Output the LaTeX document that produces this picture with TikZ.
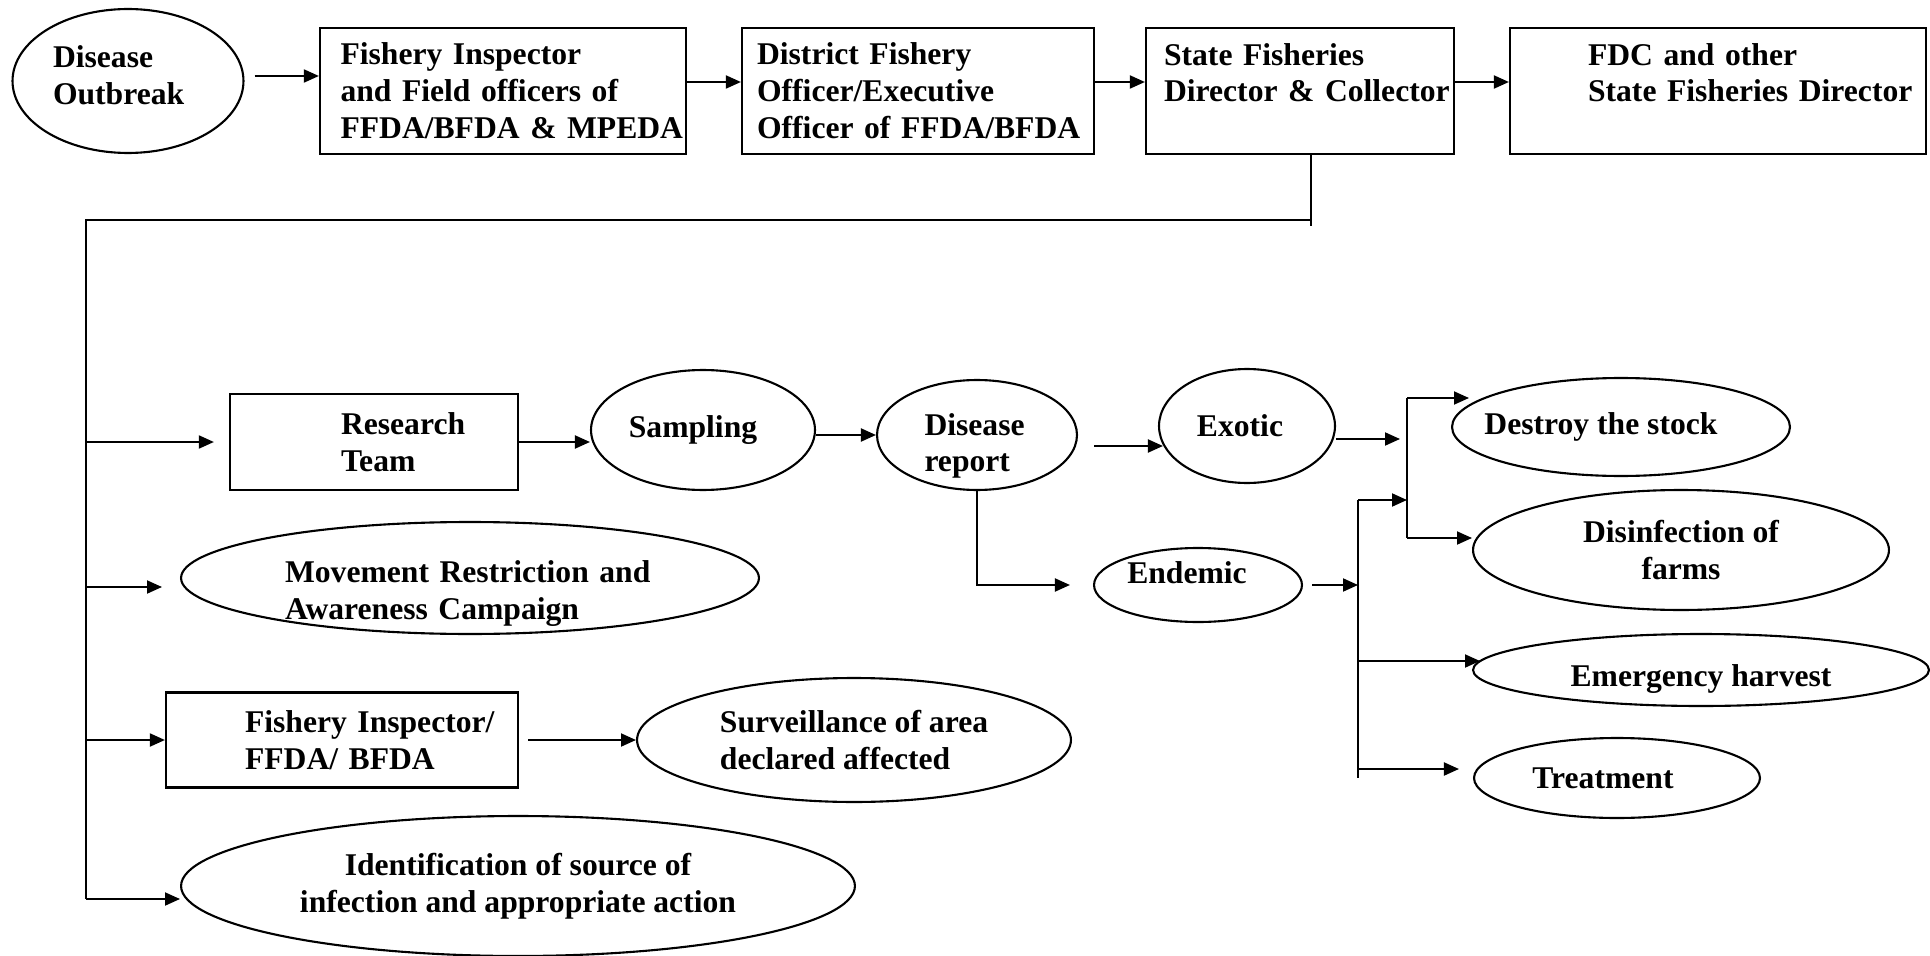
\documentclass[tikz,border=0pt]{standalone}
\usepackage{fontspec}
\setmainfont{Liberation Serif}
\usetikzlibrary{shapes.geometric, arrows.meta, positioning, calc}
\hyphenpenalty=10000

\begin{document}
\begin{tikzpicture}[
    x=0.02cm, y=0.02cm,
    font=\fontsize{18pt}{21pt}\selectfont\bfseries,
    box/.style={rectangle, draw, line width=1.3pt, inner sep=0pt, align=left, minimum height=2.52cm},
    oval/.style={ellipse, draw, line width=1.2pt, inner sep=0pt},
    arrow/.style={-{Triangle[length=0.3cm, width=0.26cm]}, line width=1.1pt},
    link/.style={line width=1.1pt}
]
    \useasboundingbox (0,0) rectangle (1930,-956);

    % reporting chain
    \node[oval, minimum width=4.62cm, minimum height=2.88cm, align=left, text width=3cm, text height=0.31cm, text depth=0.85cm] (out) at (128,-81) {Disease\\Outbreak};
    \node[box, minimum width=7.32cm, text width=6.5cm] (fi) at (503,-91) {Fishery Inspector\\and Field officers of\\FFDA/BFDA~\&~MPEDA};
    \node[box, minimum width=7.04cm, text width=6.44cm] (dfo) at (918,-91) {District Fishery\\Officer/Executive\\Officer~of~FFDA/BFDA};
    \node[box, minimum width=6.16cm, text width=5.44cm] (sfd) at (1300,-91) {State Fisheries\\Director~\&~Collector\\\mbox{}};
    \node[box, minimum width=8.32cm, text width=5.2cm] (fdc) at (1718,-91) {FDC~and~other\\State~Fisheries~Director\\\mbox{}};

    \draw[arrow] ($(out.east)+(10,5)$) -- ($(out.east -| fi.west)+(0,5)$);
    \draw[arrow] ($(fi.east)+(0,9)$) -- ($(dfo.west)+(0,9)$);
    \draw[arrow] ($(dfo.east)+(0,9)$) -- ($(sfd.west)+(0,9)$);
    \draw[arrow] ($(sfd.east)+(0,9)$) -- ($(fdc.west)+(0,9)$);

    % actions
    \node[box, minimum width=5.76cm, minimum height=1.92cm, text width=1.32cm] (rt) at (374,-442) {Research\\Team};
    \node[oval, minimum width=4.48cm, minimum height=2.4cm] (smp) at (703,-430) {\hspace*{-0.4cm}Sampling};
    \node[oval, minimum width=4cm, minimum height=2.2cm, align=left, text width=2.1cm, text height=0.65cm, text depth=0.65cm] (dr) at (977,-435) {Disease\\report};
    \node[oval, minimum width=3.52cm, minimum height=2.28cm] (exo) at (1247,-426) {\hspace*{-0.28cm}Exotic};
    \node[oval, minimum width=4.16cm, minimum height=1.48cm, text height=0.19cm, text depth=0.24cm] (end) at (1198,-585) {\hspace*{-0.44cm}Endemic};
    \node[oval, minimum width=6.76cm, minimum height=1.96cm] (dst) at (1621,-427) {\hspace*{-0.8cm}Destroy the stock};
    \node[oval, minimum width=8.32cm, minimum height=2.4cm, align=center] (dis) at (1681,-550) {Disinfection of\\farms};
    \node[oval, minimum width=9.12cm, minimum height=1.44cm, text height=0.66cm, text depth=0cm] (emh) at (1701,-670) {Emergency harvest};
    \node[oval, minimum width=5.72cm, minimum height=1.6cm] (trt) at (1617,-778) {\hspace*{-0.56cm}Treatment};
    \node[oval, minimum width=11.56cm, minimum height=2.24cm, align=left, text width=7.4cm, text height=0.75cm, text depth=0.56cm] (mov) at (470,-578) {Movement Restriction and\\Awareness Campaign};
    \node[box, minimum width=7.04cm, minimum height=1.9cm, text width=3.88cm] (fib) at (342,-740) {Fishery~Inspector/\\FFDA/~BFDA};
    \node[oval, minimum width=8.68cm, minimum height=2.48cm, align=left] (sur) at (854,-740) {Surveillance of area\\declared affected};
    \node[oval, minimum width=13.48cm, minimum height=2.8cm, align=center] (idn) at (518,-886) {Identification of source of\\infection and appropriate action};

    % spine
    \coordinate (hub) at (1311,-220);
    \coordinate (sp) at (86,-220);
    \coordinate (spb) at (86,-899);
    \draw[link] ($(sfd.south)+(11,0)$) -- ++(0,-71);
    \draw[link] (hub) -- (sp) -- (spb);
    \draw[arrow] (sp |- rt) -- ($(rt.west)+(-15,0)$);
    \draw[arrow] ($(sp |- mov)+(0,-9)$) -- ($(mov.west)+(-18,-9)$);
    \draw[arrow] (sp |- fib) -- (fib.west);
    \draw[arrow] (spb) -- (spb -| idn.west);

    \draw[arrow] (rt.east) -- (rt.east -| smp.west);
    \draw[arrow] (smp.east |- dr) -- (dr.west);
    \draw[arrow] ($(dr.east)+(16,-11)$) -- ($(exo.west)+(5,-20)$);
    \draw[arrow] (dr.south) |- ($(end.west)+(-23,0)$);
    \draw[arrow] ([xshift=0.18cm]fib.east) -- (sur.west);

    % exotic / endemic branches
    \coordinate (xtop) at (1407,-398);
    \coordinate (xbot) at (1407,-538);
    \coordinate (xin) at (1400,-439);
    \coordinate (ntop) at (1358,-500);
    \coordinate (nbot) at (1358,-778);
    \draw[arrow] (exo.east |- xin) -- (xin);
    \draw[link] (xtop) -- (xbot);
    \draw[arrow] (xtop) -- ($(xtop -| dst.west)+(18,0)$);
    \draw[arrow] (xbot) -- (xbot -| dis.west);

    \draw[arrow] ([xshift=0.18cm]end.east) -- (end.east -| ntop);
    \draw[link] (ntop) -- (nbot);
    \draw[arrow] (ntop) -- (ntop -| xtop);
    \draw[arrow] ($(ntop |- emh)+(0,9)$) -- ($(emh.west)+(8,9)$);
    \draw[arrow] ($(nbot)+(0,9)$) -- ($(trt.west)+(-14,9)$);
\end{tikzpicture}
\end{document}
